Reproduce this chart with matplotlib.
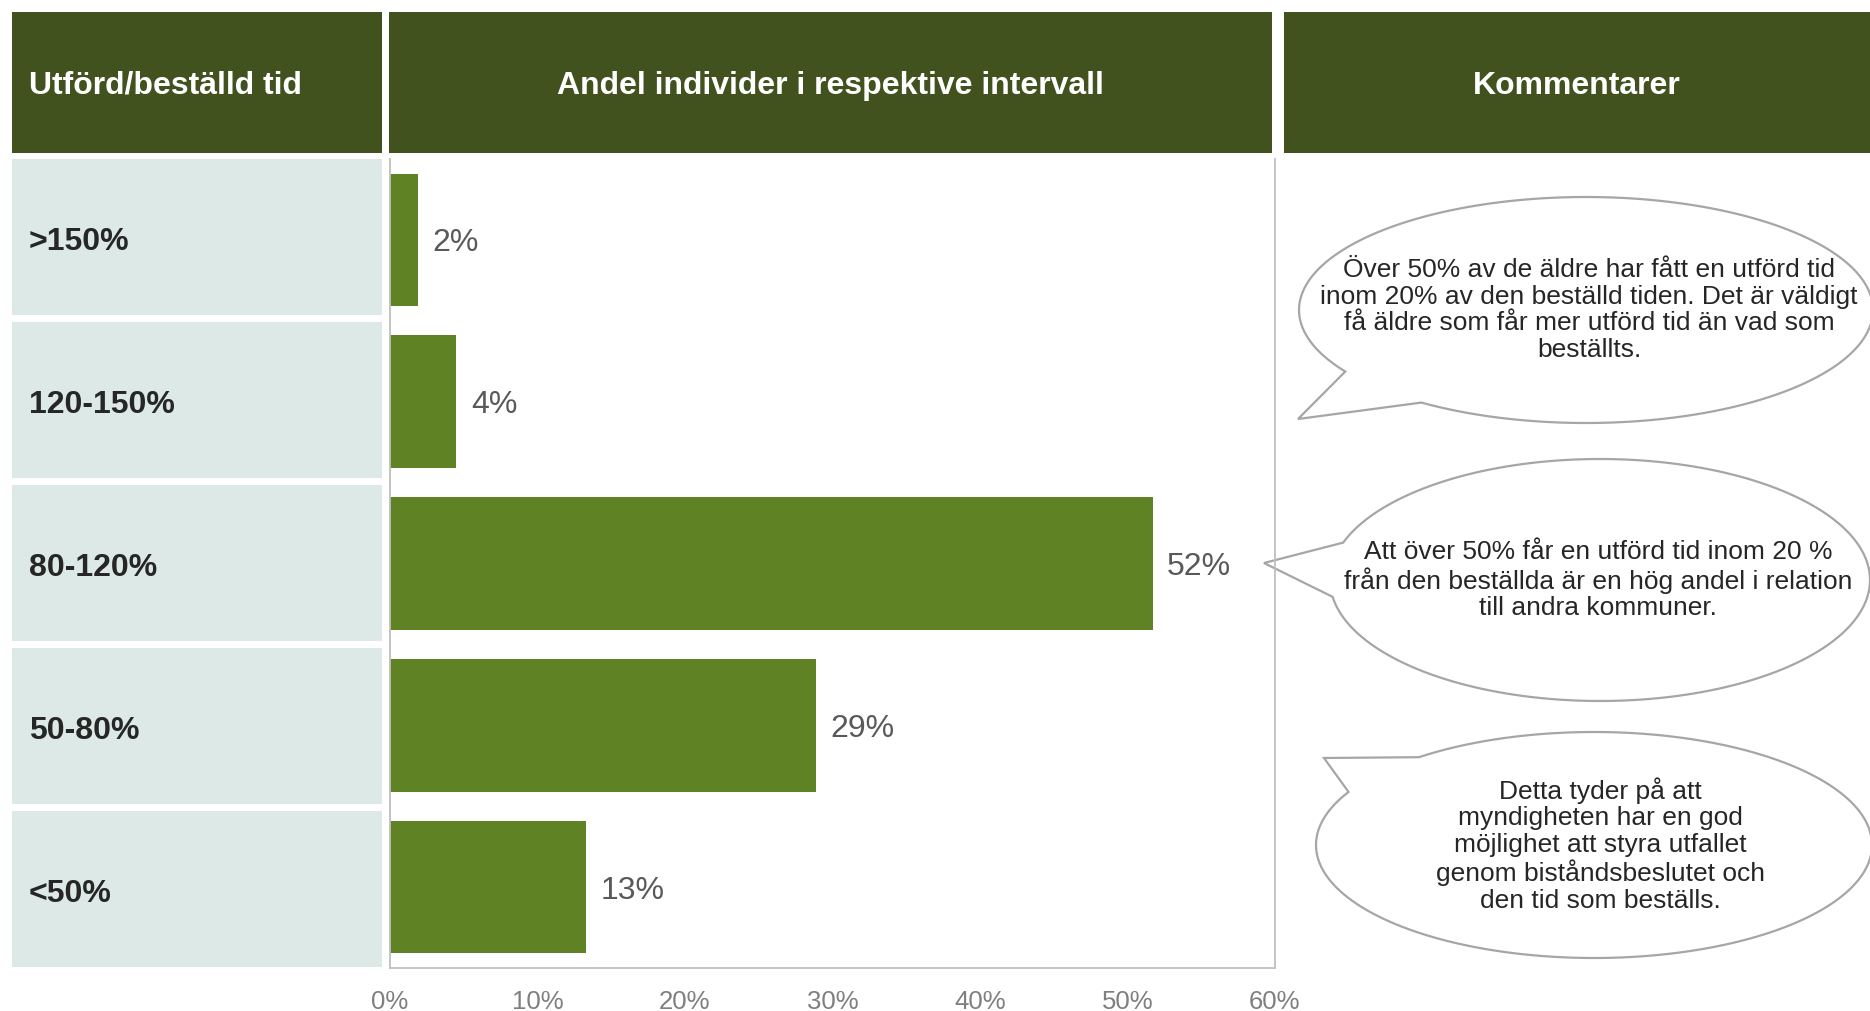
import numpy as np
import matplotlib
matplotlib.use('Agg')
import matplotlib.pyplot as plt
import matplotlib.transforms as mtransforms
from matplotlib.patches import Rectangle, Polygon

# data
categories = ['>150%', '120-150%', '80-120%', '50-80%', '<50%']
shares = [1.9, 4.5, 51.7, 28.9, 13.3]
share_labels = ['2%', '4%', '52%', '29%', '13%']
x_ticks = [0, 10, 20, 30, 40, 50, 60]
x_tick_labels = ['0%', '10%', '20%', '30%', '40%', '50%', '60%']
headers = ['Utförd/beställd tid', 'Andel individer i respektive intervall', 'Kommentarer']
comments = [
    'Över 50% av de äldre har fått en utförd tid\ninom 20% av den beställd tiden. Det är väldigt\n'
    'få äldre som får mer utförd tid än vad som\nbeställts.',
    'Att över 50% får en utförd tid inom 20 %\nfrån den beställda är en hög andel i relation\n'
    'till andra kommuner.',
    'Detta tyder på att\nmyndigheten har en god\nmöjlighet att styra utfallet\n'
    'genom biståndsbeslutet och\nden tid som beställs.',
]

HEADER = '#41521e'
BAR = '#5f8224'
ROWBOX = '#dde9e6'
GRID = '#bfbfbf'

W, H = 1870, 1011
plt.rcParams['font.family'] = ['Liberation Sans', 'DejaVu Sans']

fig = plt.figure(figsize=(W / 100, H / 100), dpi=100)

# overlay in pixel coordinates for headers and speech bubbles
ov = fig.add_axes([0, 0, 1, 1], zorder=0)
ov.set_xlim(0, W)
ov.set_ylim(H, 0)
ov.axis('off')

# header boxes: (x0, x1)
header_boxes = [(12, 382), (389, 1272), (1284, 1870)]
for (x0, x1), txt in zip(header_boxes, headers):
    ov.add_patch(Rectangle((x0, 12), x1 - x0, 141, facecolor=HEADER, edgecolor='none'))
for i, ((x0, x1), txt) in enumerate(zip(header_boxes, headers)):
    if i == 0:
        ov.text(x0 + 17, 85, txt, color='white', fontsize=23, fontweight='bold',
                ha='left', va='center')
    else:
        ov.text((x0 + x1) / 2, 86, txt, color='white', fontsize=23, fontweight='bold',
                ha='center', va='center')

# bar chart
ax = fig.add_axes([390 / W, 1 - 968 / H, 885 / W, 809 / H], zorder=1)
ax.patch.set_facecolor('none')
y = np.arange(len(categories))
ax.barh(y, shares, height=0.82, color=BAR)
ax.set_xlim(0, 60)
ax.set_ylim(len(categories) - 0.5, -0.5)
ax.set_xticks(x_ticks)
ax.set_xticklabels(x_tick_labels)
ax.set_yticks([])
ax.tick_params(axis='x', length=0, pad=15.5, labelsize=18.5, labelcolor='#7f7f7f')
ax.spines['top'].set_visible(False)
for s in ['left', 'right', 'bottom']:
    ax.spines[s].set_color(GRID)
    ax.spines[s].set_linewidth(1.3)

for yi, v, lab in zip(y, shares, share_labels):
    ax.annotate(lab, (v, yi), xytext=(10.5, -2.5), textcoords='offset points',
                ha='left', va='center', fontsize=23, color='#595959')

# row label boxes, x in figure fraction, y in data units
trans = mtransforms.blended_transform_factory(fig.transFigure, ax.transData)
for yi, cat in zip(y, categories):
    y0 = yi * 1.007 - 0.5
    ax.add_patch(Rectangle((12 / W, y0), 370 / W, 0.966, transform=trans,
                           facecolor=ROWBOX, edgecolor='none', clip_on=False))
    ax.annotate(cat, (29 / W, y0 + 0.483), xycoords=trans, xytext=(0, -3.5),
                textcoords='offset points', ha='left', va='center',
                fontsize=23, fontweight='bold', color='#262626')


def bubble(cx, cy, rx, ry, ta, tb, tip):
    t = np.radians(np.linspace(tb, ta + 360, 200))
    pts = np.column_stack([cx + rx * np.cos(t), cy + ry * np.sin(t)])
    pts = np.vstack([pts, tip])
    return Polygon(pts, closed=True, facecolor='white', edgecolor='#a6a6a6', linewidth=1.6)


bubbles = [
    dict(cx=1586, cy=310, rx=287, ry=113, ta=125, tb=147, tip=(1298, 419), text=(1589, 310)),
    dict(cx=1600, cy=580, rx=270, ry=121, ta=172, tb=198, tip=(1264, 563), text=(1598, 580)),
    dict(cx=1594, cy=845, rx=278, ry=113, ta=208, tb=231, tip=(1324, 758), text=(1600, 845)),
]
for b, txt in zip(bubbles, comments):
    ov.add_patch(bubble(b['cx'], b['cy'], b['rx'], b['ry'], b['ta'], b['tb'], b['tip']))
    ov.text(b['text'][0], b['text'][1], txt, ha='center', va='center', fontsize=19,
            color='#262626', linespacing=1.13, multialignment='center')

fig.savefig('out.png', dpi=100)
